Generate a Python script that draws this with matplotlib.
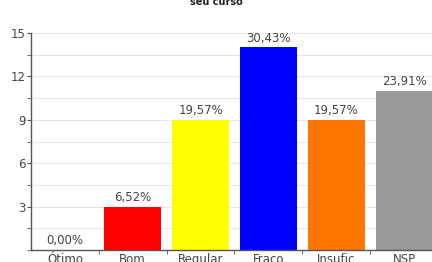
import matplotlib.pyplot as plt
from matplotlib.ticker import MultipleLocator, FixedLocator, NullFormatter

categories = ['Ótimo', 'Bom', 'Regular', 'Fraco', 'Insufic', 'NSP']
counts = [0, 3, 9, 14, 9, 11]
labels = ['0,00%', '6,52%', '19,57%', '30,43%', '19,57%', '23,91%']
colors = ['#ff0000', '#ff0000', '#ffff00', '#0000ff', '#ff7700', '#999999']

fig = plt.figure(figsize=(4.32, 2.62), dpi=100)
ax = fig.add_axes([31 / 432, 12 / 262, 407 / 432, 217 / 262])

x = range(len(categories))
ax.bar(x, counts, width=0.84, color=colors, zorder=2)
for i, (c, t) in enumerate(zip(counts, labels)):
    ax.text(i, c + 0.2, t, ha='center', va='bottom', fontsize=8.5, color='#444444')

ax.set_xlim(-0.5, 5.5)
ax.set_ylim(0, 15)
ax.set_xticks(list(x))
ax.set_xticklabels(categories, fontsize=8.5, color='#444444')
ax.tick_params(axis='x', length=0, pad=2)
ax.xaxis.set_minor_locator(FixedLocator([0.5, 1.5, 2.5, 3.5, 4.5]))
ax.tick_params(axis='x', which='minor', length=3, direction='out', color='#555555')

ax.yaxis.set_major_locator(MultipleLocator(3))
ax.yaxis.set_minor_locator(MultipleLocator(1.5))
ax.yaxis.set_minor_formatter(NullFormatter())
ax.set_yticks([3, 6, 9, 12, 15])
ax.tick_params(axis='y', labelsize=8.5, labelcolor='#444444', length=3, color='#555555', pad=1)
ax.tick_params(axis='y', which='minor', length=3, color='#555555')
ax.grid(axis='y', which='both', color='#e8e8e8', linewidth=0.8, zorder=0)

for s in ['top', 'right']:
    ax.spines[s].set_visible(False)
for s in ['left', 'bottom']:
    ax.spines[s].set_color('#555555')
    ax.spines[s].set_linewidth(1)

fig.text(0.5, 257 / 262, 'seu curso', ha='center', va='baseline', fontsize=7, fontweight='bold', color='#222222')

fig.savefig('out.png', dpi=100)
